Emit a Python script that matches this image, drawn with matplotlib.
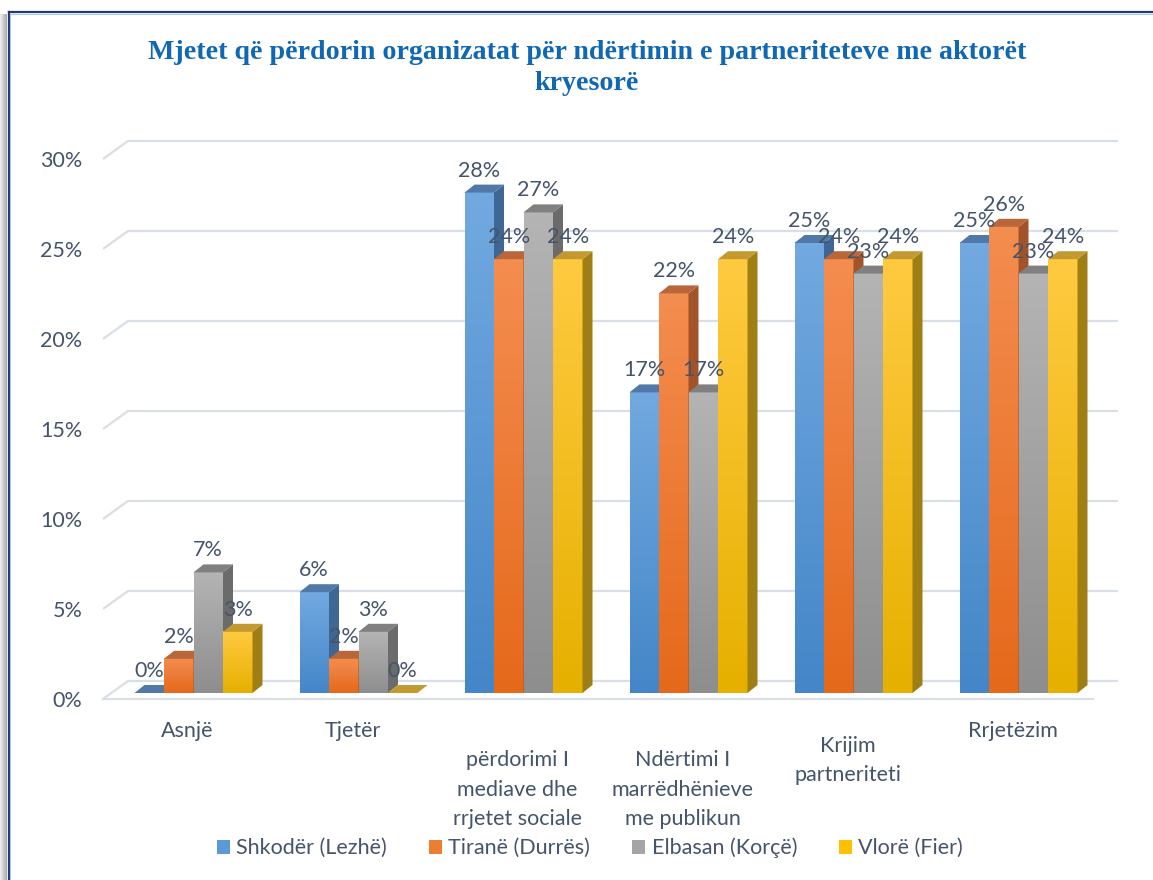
import numpy as np
import matplotlib
matplotlib.use('Agg')
import matplotlib.pyplot as plt
from matplotlib.patches import Polygon, Patch, Rectangle
from matplotlib.lines import Line2D
from matplotlib.colors import to_rgb

# --- data ---
categories = ['Asnjë', 'Tjetër', 'përdorimi I\nmediave dhe\nrrjetet sociale',
              'Ndërtimi I\nmarrëdhënieve\nme publikun', 'Krijim\npartneriteti', 'Rrjetëzim']
series = ['Shkodër (Lezhë)', 'Tiranë (Durrës)', 'Elbasan (Korçë)', 'Vlorë (Fier)']
shkoder = [0.0, 5.6, 27.8, 16.7, 25.0, 25.0]
tirane = [1.9, 1.9, 24.1, 22.2, 24.1, 25.9]
elbasan = [6.7, 3.4, 26.7, 16.7, 23.3, 23.3]
vlore = [3.4, 0.0, 24.1, 24.1, 24.1, 24.1]
values = [shkoder, tirane, elbasan, vlore]
yticks = [0, 5, 10, 15, 20, 25, 30]

# colours: (front top, front bottom, top face, side face, legend)
styles = [
    ('#72A9E0', '#4486C8', '#5079A8', '#3E6793', '#5B9BD5'),
    ('#F48D50', '#E5691B', '#B9663A', '#A3532A', '#ED7D31'),
    ('#B4B4B4', '#8E8E8E', '#808080', '#6B6B6B', '#A5A5A5'),
    ('#FFCA40', '#E6B000', '#C49A30', '#9F7F13', '#FFC000'),
]
text_col = '#44546A'
grid_col = '#D9DEE7'
font = 'Lato'
fs = 15.5

W, H = 1153, 880
fig = plt.figure(figsize=(W / 100, H / 100), dpi=100)

# pixel geometry
px_x = 165.0   # pixels per category
px_y = 18.0    # pixels per percent
x0_px, base_px = 103, 693
c0_px = 193.5
drop = 6 / px_y                           # floor front below bar base
xmin = (x0_px - c0_px) / px_x
xmax = xmin + 990 / px_x
ax = fig.add_axes([x0_px / W, (H - base_px - 6) / H, 990 / W, (30 * px_y + 6) / H])
ax.set_xlim(xmin, xmax)
ax.set_ylim(-drop, 30)
for s in ax.spines.values():
    s.set_visible(False)
ax.set_xticks([])

bw = 29.5 / px_x
ddx, ddy = 10 / px_x, 8 / px_y            # bar depth
wdx, wdy = 25 / px_x, 12 / px_y           # back wall offset

# back wall gridlines and floor
for v in yticks:
    xs = [xmin, xmin + wdx, xmax + wdx]
    ys = [v - drop, v + wdy, v + wdy]
    ax.plot(xs, ys, color=grid_col, lw=1.6, zorder=1, clip_on=False,
            solid_capstyle='butt')
ax.plot([xmin, xmax], [-drop, -drop], color=grid_col, lw=1.6, zorder=1, clip_on=False)

ax.set_yticks([v - drop for v in yticks])
ax.set_yticklabels(['{}%'.format(v) for v in yticks], fontsize=fs, color=text_col,
                   family=font)
ax.tick_params(axis='y', length=0, pad=15)

# bars
z = 2
for gi in range(len(categories)):
    for si in range(len(series)):
        v = values[si][gi]
        top_c, bot_c, topf, side, _ = styles[si]
        xl = gi + (si - 2) * bw
        xr = xl + bw
        if v > 0:
            grad = np.linspace(to_rgb(bot_c), to_rgb(top_c), 64).reshape(64, 1, 3)
            ax.imshow(grad, extent=(xl, xr, 0, v), origin='lower', aspect='auto',
                      zorder=z, interpolation='bilinear')
            ax.add_patch(Polygon([(xr, 0), (xr + ddx, ddy), (xr + ddx, v + ddy), (xr, v)],
                                 closed=True, facecolor=side, edgecolor='none',
                                 zorder=z, clip_on=False))
        ax.add_patch(Polygon([(xl, v), (xl + ddx, v + ddy), (xr + ddx, v + ddy), (xr, v)],
                             closed=True, facecolor=topf, edgecolor='none',
                             zorder=z, clip_on=False))
        z += 1

# value labels
for gi in range(len(categories)):
    for si in range(len(series)):
        v = values[si][gi]
        ax.text(gi + (si - 1.5) * bw, v + 22 / px_y, '{:.0f}%'.format(v),
                ha='center', va='center', fontsize=fs, color=text_col,
                family=font, zorder=100, clip_on=False)

ax.set_xlim(xmin, xmax)
ax.set_ylim(-drop, 30)

# category labels, one line at a time
for gi, cat in enumerate(categories):
    lines = cat.split('\n')
    first_px = 737 + (len(lines) - 1) * 14.5
    for li, line in enumerate(lines):
        y_px = first_px + li * 29.5
        ax.text(gi - 6 / px_x, (base_px - y_px) / px_y, line, ha='center',
                va='baseline', fontsize=fs, color=text_col, family=font,
                clip_on=False)

# title
fig.text(587 / W, 1 - 68 / H,
         'Mjetet që përdorin organizatat për ndërtimin e partneriteteve me aktorët\nkryesorë',
         ha='center', va='center', fontsize=20.2, fontweight='bold',
         color='#1068B4', family='Liberation Serif', linespacing=1.3)

# legend
handles = [Patch(facecolor=st[4], edgecolor='none') for st in styles]
fig.legend(handles, series, loc='center', bbox_to_anchor=(590 / W, 1 - 848 / H),
           ncol=4, frameon=False, handlelength=0.6, handleheight=0.6,
           handletextpad=0.3, columnspacing=1.95,
           prop={'family': font, 'size': fs}, labelcolor=text_col)

# chart frame with left shadow
for i, g in enumerate(np.linspace(0.93, 0.68, 7)):
    fig.add_artist(Rectangle((i / W, 0), 1 / W, 1 - 14 / H, transform=fig.transFigure,
                             facecolor=(g, g, g), edgecolor='none'))
fig.add_artist(Line2D([8.5 / W, 8.5 / W], [0, 1 - 12.5 / H], color='#1F3B73', lw=1.6))
fig.add_artist(Line2D([8.5 / W, 1], [1 - 12.5 / H, 1 - 12.5 / H], color='#1F3B73', lw=1.6))
fig.add_artist(Line2D([10.5 / W, 10.5 / W], [0, 1 - 14.5 / H], color='#B4C7E7', lw=0.8))
fig.add_artist(Line2D([10.5 / W, 1], [1 - 14.5 / H, 1 - 14.5 / H], color='#B4C7E7', lw=0.8))

fig.savefig('out.png', dpi=100)
